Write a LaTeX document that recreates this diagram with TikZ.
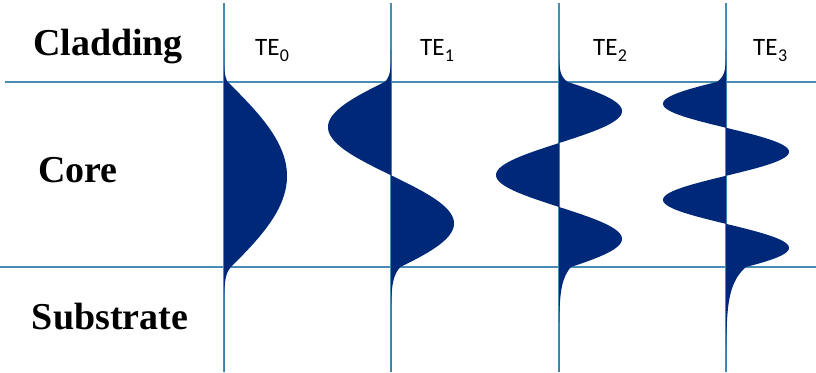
\documentclass[tikz,border=0pt]{standalone}
\usepackage{fontspec}
\setmainfont{Liberation Serif}
\newfontfamily\labelfont{Carlito}
\usepackage{tikz}
\usepackage{xcolor}

\definecolor{lineblue}{RGB}{70,140,180}
\definecolor{fieldblue}{RGB}{0,40,120}

\begin{document}
\begin{tikzpicture}[
    x=1pt, y=-1pt,
    boundary/.style={draw=lineblue, line width=1.6pt},
    profile/.style={fill=fieldblue},
    layerlabel/.style={font=\fontsize{38}{40}\selectfont\bfseries, anchor=base, inner sep=0pt},
    modelabel/.style={font=\labelfont\fontsize{25}{28}\selectfont, anchor=base west, inner sep=0pt},
    idx/.style={font=\labelfont\fontsize{18}{20}\selectfont, anchor=base west, inner sep=0pt}
]
\useasboundingbox (0,0) rectangle (816,372);

% layer boundaries
\draw[boundary] (5,82) -- (816,82);
\draw[boundary] (0,267) -- (816,267);

% axis of each mode
\foreach \xo in {224,391,559,726}
  \draw[boundary] (\xo,3) -- (\xo,372);

% field profiles: axis / sign / order / phase at top / phase at bottom / decay in substrate
\foreach \xo/\sg/\m/\da/\db/\lb in {224/1/0/0.06/0.11/8, 391/-1/1/0.10/0.15/10, 559/1/2/0.14/0.19/14, 726/-1/3/0.15/0.32/18}
  \fill[profile] (\xo,50)
    -- plot[domain=50:82, samples=30, variable=\y] ({\xo+(\sg)*63*sin(\da r)*exp(-(82-\y)/6)}, \y)
    -- plot[domain=82:267, samples=150, variable=\y] ({\xo+(\sg)*63*sin((\da+((\m+1)*pi-\da-\db)*(\y-82)/185) r)}, \y)
    -- plot[domain=267:372, samples=60, variable=\y] ({\xo+63*sin(\db r)*exp(-(\y-267)/\lb)}, \y)
    -- (\xo,372) -- cycle;

% layers
\node[layerlabel] (clad) at (108,55) {Cladding};
\node[layerlabel] (core) at (78,182) {Core};
\node[layerlabel] (subs) at (110,329) {Substrate};

% mode names
\node[modelabel] (te0) at (255,55) {TE};
\node[idx] (te0i) at ([yshift=-6pt]te0.base east) {0};
\node[modelabel] (te1) at (420,55) {TE};
\node[idx] (te1i) at ([yshift=-6pt]te1.base east) {1};
\node[modelabel] (te2) at (593,55) {TE};
\node[idx] (te2i) at ([yshift=-6pt]te2.base east) {2};
\node[modelabel] (te3) at (753,55) {TE};
\node[idx] (te3i) at ([yshift=-6pt]te3.base east) {3};

\end{tikzpicture}
\end{document}
